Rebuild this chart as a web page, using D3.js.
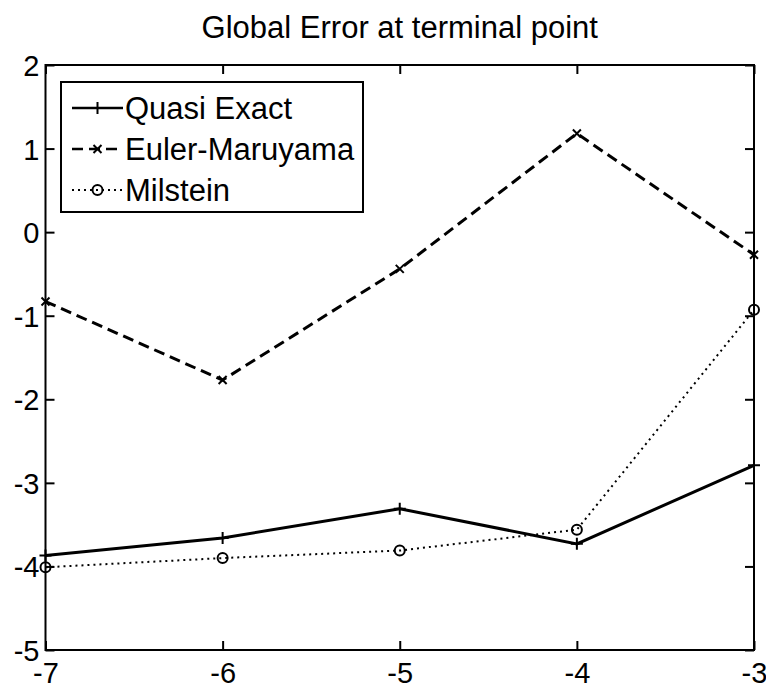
<!DOCTYPE html>
<html>
<head>
<meta charset="utf-8">
<script src="https://cdn.jsdelivr.net/npm/d3@7"></script>
<style>
  html, body { margin: 0; padding: 0; background: #fff; }
  svg { display: block; }
  text { font-family: "Liberation Sans", Arial, Helvetica, sans-serif; fill: #000; }
</style>
</head>
<body>
<svg id="chart" width="766" height="691"></svg>
<script>
// log10 of step size on the x axis
const steps = [-7, -6, -5, -4, -3];
// log10 of global error at the terminal point for each scheme
const quasiExact = [-3.87, -3.66, -3.31, -3.73, -2.79];
const eulerMaruyama = [-0.83, -1.77, -0.44, 1.18, -0.27];
const milstein = [-4.01, -3.90, -3.81, -3.56, -0.93];
const seriesNames = ["Quasi Exact", "Euler-Maruyama", "Milstein"];
const xTicks = [-7, -6, -5, -4, -3];
const yTicks = [2, 1, 0, -1, -2, -3, -4, -5];
const titleText = "Global Error at terminal point";

const svg = d3.select("#chart");
const margin = { left: 45.5, right: 12, top: 65, bottom: 41 };
const W = 766, H = 691;
const x = d3.scaleLinear().domain([-7, -3]).range([margin.left, W - margin.right]);
const y = d3.scaleLinear().domain([-5, 2]).range([H - margin.bottom, margin.top]);

// plain hyphen-minus labels
const fmt = d => String(d);

// title
svg.append("text")
  .attr("x", (x(-7) + x(-3)) / 2)
  .attr("y", 38)
  .attr("text-anchor", "middle")
  .style("font-size", "31px")
  .text(titleText);

// axes with inward ticks on all four sides
const tickLen = 9;
const gB = svg.append("g").attr("transform", `translate(0,${y(-5)})`)
  .call(d3.axisBottom(x).tickValues(xTicks).tickSize(-tickLen).tickPadding(12).tickFormat(fmt));
const gT = svg.append("g").attr("transform", `translate(0,${y(2)})`)
  .call(d3.axisTop(x).tickValues(xTicks).tickSize(-tickLen).tickFormat(""));
const gL = svg.append("g").attr("transform", `translate(${x(-7)},0)`)
  .call(d3.axisLeft(y).tickValues(yTicks).tickSize(-tickLen).tickPadding(6).tickFormat(fmt));
const gR = svg.append("g").attr("transform", `translate(${x(-3)},0)`)
  .call(d3.axisRight(y).tickValues(yTicks).tickSize(-tickLen).tickFormat(""));

[gB, gT, gL, gR].forEach(g => {
  g.select(".domain").remove();
  g.selectAll(".tick line").attr("stroke", "#000").attr("stroke-width", 2);
  g.selectAll(".tick text").style("font-size", "29px").attr("fill", "#000");
});
gB.selectAll(".tick text").attr("dy", "0.71em");
gL.selectAll(".tick text").attr("dy", "0.36em");

// plot box
svg.append("rect")
  .attr("x", x(-7)).attr("y", y(2))
  .attr("width", x(-3) - x(-7)).attr("height", y(-5) - y(2))
  .attr("fill", "none").attr("stroke", "#000").attr("stroke-width", 2);

const styles = [
  { data: quasiExact, dash: null, width: 3, marker: "plus" },
  { data: eulerMaruyama, dash: "11,6", width: 3, marker: "cross" },
  { data: milstein, dash: "2,4", width: 2, marker: "circle" }
];

const line = d3.line().x(d => x(d[0])).y(d => y(d[1]));

function drawMarker(g, type, cx, cy) {
  if (type === "plus") {
    const s = 6;
    g.append("path").attr("d", `M${cx - s},${cy}H${cx + s}M${cx},${cy - s}V${cy + s}`)
      .attr("stroke", "#000").attr("stroke-width", 2);
  } else if (type === "cross") {
    const s = 4;
    g.append("path").attr("d", `M${cx - s},${cy - s}L${cx + s},${cy + s}M${cx - s},${cy + s}L${cx + s},${cy - s}`)
      .attr("stroke", "#000").attr("stroke-width", 2);
  } else {
    g.append("circle").attr("cx", cx).attr("cy", cy).attr("r", 5)
      .attr("fill", "none").attr("stroke", "#000").attr("stroke-width", 2);
  }
}

styles.forEach(s => {
  const pts = steps.map((v, i) => [v, s.data[i]]);
  const g = svg.append("g");
  g.append("path").datum(pts).attr("d", line)
    .attr("fill", "none").attr("stroke", "#000")
    .attr("stroke-width", s.width)
    .attr("stroke-dasharray", s.dash);
  pts.forEach(p => drawMarker(g, s.marker, x(p[0]), y(p[1])));
});

// legend
const lg = svg.append("g");
lg.append("rect").attr("x", 61).attr("y", 82).attr("width", 302).attr("height", 130)
  .attr("fill", "#fff").attr("stroke", "#000").attr("stroke-width", 2);
const rowY = [108, 149, 190];
styles.forEach((s, i) => {
  const cy = rowY[i];
  lg.append("path").attr("d", `M72,${cy}H123`)
    .attr("stroke", "#000").attr("stroke-width", s.width === 3 ? 2.5 : 2)
    .attr("stroke-dasharray", s.dash);
  drawMarker(lg, s.marker, 97.5, cy);
  lg.append("text").attr("x", 125).attr("y", cy + 11)
    .style("font-size", "31px").text(seriesNames[i]);
});
</script>
</body>
</html>
